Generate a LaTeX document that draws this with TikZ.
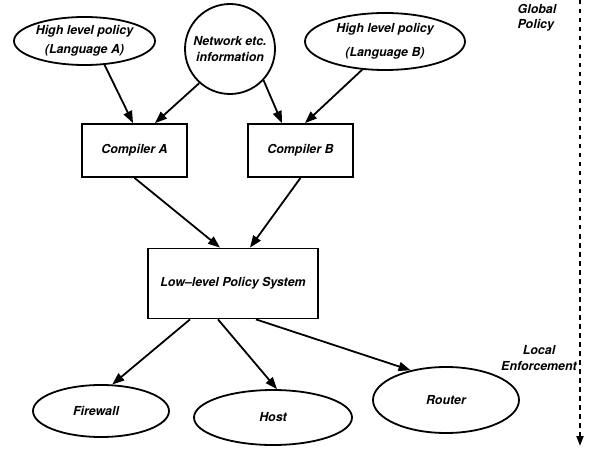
\documentclass[tikz,border=0pt]{standalone}
\usepackage{fontspec}
\setmainfont{TeX Gyre Heros}
\usetikzlibrary{shapes.geometric,arrows.meta}

\begin{document}
\begin{tikzpicture}[x=1pt,y=-1pt,
  lbl/.style={font=\fontsize{12.4}{15}\selectfont\bfseries\itshape},
  oval/.style={lbl, draw, ellipse, line width=1.8pt, inner sep=0pt},
  box/.style={lbl, draw, rectangle, line width=1.8pt, inner sep=0pt},
  link/.style={line width=1.8pt, -{Triangle[length=12pt,width=9pt]}},
  axis/.style={line width=2pt, dash pattern=on 4.5pt off 4.5pt,
    -{Triangle[length=10pt,width=7pt]}},
]
\useasboundingbox (0,0) rectangle (589,449);

% policy sources
\node[oval, minimum width=141pt, minimum height=48pt, align=center,
      font=\fontsize{12.4}{19}\selectfont\bfseries\itshape]
  (hlA) at (84.5,41) {High level policy\\(Language A)};
\node[lbl, draw, circle, line width=1.8pt, inner sep=0pt, minimum size=90pt,
      align=center, font=\fontsize{12.4}{16}\selectfont\bfseries\itshape]
  (net) at (230,49) {Network etc.\\information};
\node[oval, minimum width=160pt, minimum height=57pt, align=center,
      font=\fontsize{12.4}{24}\selectfont\bfseries\itshape]
  (hlB) at (385,41.5) {High level policy\\(Language B)};

% compilers and the low-level system
\node[box, minimum width=105pt, minimum height=53pt] (compA) at (134.5,150.5) {Compiler A};
\node[box, minimum width=105pt, minimum height=53pt] (compB) at (300.5,150.5) {Compiler B};
\node[box, minimum width=170pt, minimum height=70pt] (low) at (233,283.5) {Low--level Policy System};

% enforcement points
\node[oval, minimum width=136pt, minimum height=52pt] (fw) at (101,411) {\hspace*{-10pt}Firewall};
\node[oval, minimum width=158pt, minimum height=55pt] (host) at (273,417.5) {Host};
\node[oval, minimum width=146pt, minimum height=66pt] (router) at (446,400) {Router};

% connectors
\draw[link] (hlA.-50.6) -- ([xshift=-1.5pt]compA.north);
\draw[link] (net.-132) -- ([xshift=20.5pt]compA.north);
\draw[link] (net.-43.6) -- ([xshift=-18.5pt]compB.north);
\draw[link] (hlB.-129) -- ([xshift=4.5pt]compB.north);
\draw[link] (compA.south) -- ([xshift=-13pt]low.north);
\draw[link] (compB.south) -- ([xshift=17pt]low.north);
\draw[link] ([xshift=-43pt]low.south) -- (fw.67);
\draw[link] ([xshift=-15pt]low.south) -- (host.82);
\draw[link] ([xshift=23pt]low.south) -- (router.140);

% scope axis
\coordinate (axtop) at (580,0);
\coordinate (axbot) at (580,446);
\draw[axis] (axtop) -- (axbot);
\node[lbl, align=left] (glob) at (537,17.5) {Global\\Policy};
\node[lbl, align=center, font=\fontsize{12.4}{16}\selectfont\bfseries\itshape]
  (loc) at (539,358) {Local\\Enforcement};
\end{tikzpicture}
\end{document}
